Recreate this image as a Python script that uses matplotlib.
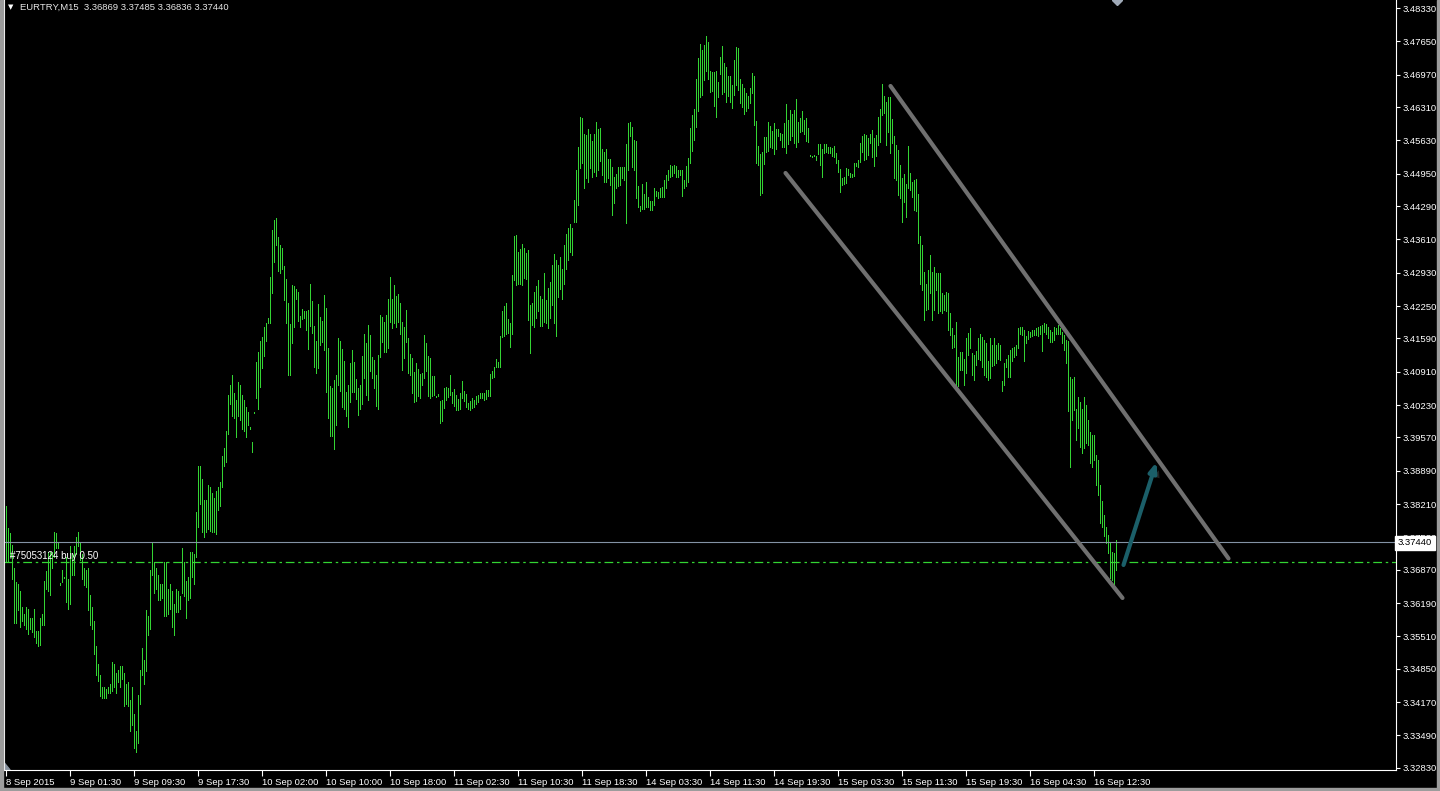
import numpy as np
import matplotlib
matplotlib.use("Agg")
import matplotlib.pyplot as plt
import matplotlib.patheffects as pe
from matplotlib.patches import Rectangle, Polygon
from matplotlib.transforms import blended_transform_factory

# EURTRY M15 bars, high / low (bar 0 = 8 Sep 17:30)
high_a = [3.3818, 3.3773, 3.3762, 3.3738, 3.3691, 3.3662, 3.3658, 3.3644, 3.3611, 3.3596,
          3.3611, 3.3607, 3.3589, 3.3589, 3.3607, 3.3563, 3.3563, 3.3589, 3.3596, 3.3665,
          3.3684, 3.3724, 3.3724, 3.3724, 3.3764, 3.3762, 3.3742, 3.3660, 3.3687, 3.3673,
          3.3713, 3.3669, 3.3735, 3.3720, 3.3735, 3.3753, 3.3765, 3.3742, 3.3720, 3.3691,
          3.3687, 3.3691, 3.3636, 3.3611, 3.3582, 3.3531, 3.3494, 3.3472, 3.3447, 3.3447,
          3.3443, 3.3447, 3.3454, 3.3498, 3.3494, 3.3476, 3.3483, 3.3491, 3.3491, 3.3476,
          3.3454, 3.3458, 3.3421, 3.3447, 3.3392, 3.3359, 3.3432, 3.3483, 3.3527, 3.3502,
          3.3604, 3.3593, 3.3687, 3.3742, 3.3702, 3.3691, 3.3676, 3.3658, 3.3658, 3.3702,
          3.3702, 3.3647, 3.3658, 3.3644, 3.3618, 3.3647, 3.3644, 3.3633, 3.3731, 3.3702,
          3.3665, 3.3673, 3.3724, 3.3724, 3.3720, 3.3804, 3.3899, 3.3899, 3.3873, 3.3829,
          3.3829, 3.3859, 3.3855, 3.3844, 3.3833, 3.3848, 3.3855, 3.3866, 3.3920, 3.3935,
          3.3971, 3.4044, 3.4063, 3.4084, 3.4048, 3.4033, 3.4070, 3.4063, 3.4044, 3.4033,
          3.4019, 3.4008, 3.3979, 3.3947, 3.4009, 3.4110, 3.4132, 3.4154, 3.4161, 3.4183,
          3.4190, 3.4201, 3.4285, 3.4380, 3.4401, 3.4405, 3.4365, 3.4350]
low_a = [3.3702, 3.3702, 3.3713, 3.3669, 3.3578, 3.3578, 3.3604, 3.3571, 3.3582, 3.3574,
         3.3567, 3.3556, 3.3567, 3.3560, 3.3549, 3.3538, 3.3531, 3.3534, 3.3574, 3.3574,
         3.3647, 3.3644, 3.3636, 3.3691, 3.3713, 3.3731, 3.3731, 3.3656, 3.3662, 3.3671,
         3.3622, 3.3607, 3.3618, 3.3676, 3.3676, 3.3720, 3.3735, 3.3706, 3.3669, 3.3655,
         3.3651, 3.3604, 3.3574, 3.3567, 3.3516, 3.3472, 3.3461, 3.3429, 3.3425, 3.3425,
         3.3425, 3.3436, 3.3436, 3.3440, 3.3447, 3.3436, 3.3458, 3.3447, 3.3465, 3.3410,
         3.3414, 3.3410, 3.3359, 3.3370, 3.3323, 3.3316, 3.3334, 3.3414, 3.3472, 3.3454,
         3.3480, 3.3553, 3.3567, 3.3676, 3.3640, 3.3647, 3.3625, 3.3625, 3.3629, 3.3593,
         3.3593, 3.3596, 3.3607, 3.3571, 3.3553, 3.3600, 3.3600, 3.3607, 3.3640, 3.3633,
         3.3589, 3.3625, 3.3629, 3.3673, 3.3658, 3.3713, 3.3775, 3.3822, 3.3764, 3.3753,
         3.3764, 3.3771, 3.3767, 3.3764, 3.3764, 3.3760, 3.3808, 3.3818, 3.3855, 3.3899,
         3.3906, 3.3964, 3.4026, 3.4001, 3.3997, 3.3957, 3.4001, 3.3993, 3.3975, 3.3971,
         3.3957, 3.3982, 3.3975, 3.3928, 3.4007, 3.4037, 3.4015, 3.4059, 3.4099, 3.4124,
         3.4154, 3.4190, 3.4190, 3.4252, 3.4314, 3.4350, 3.4296, 3.4292]

high_b = [3.4344, 3.4307, 3.4280, 3.4232, 3.4188, 3.4268, 3.4266, 3.4260, 3.4253, 3.4205,
          3.4220, 3.4215, 3.4215, 3.4217, 3.4270, 3.4235, 3.4184, 3.4154, 3.4229, 3.4203,
          3.4195, 3.4248, 3.4222, 3.4140, 3.4061, 3.4057, 3.4074, 3.4084, 3.4159, 3.4154,
          3.4137, 3.4113, 3.4049, 3.4064, 3.4108, 3.4135, 3.4110, 3.4076, 3.4057, 3.4064,
          3.4123, 3.4168, 3.4150, 3.4186, 3.4166, 3.4122, 3.4115, 3.4084, 3.4125, 3.4207,
          3.4202, 3.4193, 3.4207, 3.4239, 3.4284, 3.4239, 3.4268, 3.4246, 3.4250, 3.4231,
          3.4193, 3.4182, 3.4218, 3.4159, 3.4127, 3.4120, 3.4091, 3.4108, 3.4096, 3.4086,
          3.4089, 3.4166, 3.4149, 3.4123, 3.4120, 3.4082, 3.4082, 3.4042, 3.4046, 3.4031,
          3.4033, 3.4057, 3.4059, 3.4057, 3.4084, 3.4049, 3.4056, 3.4044, 3.4035, 3.4047,
          3.4072, 3.4052, 3.4045, 3.4028, 3.4032, 3.4037, 3.4033, 3.4042, 3.4044, 3.4048,
          3.4047, 3.4047, 3.4054, 3.4054,
          3.4086, 3.4093, 3.4101, 3.4118, 3.4110, 3.4164, 3.4215, 3.4225, 3.4231, 3.4199,
          3.4191, 3.4288, 3.4367, 3.4370, 3.4336, 3.4341, 3.4352, 3.4343, 3.4334, 3.4339,
          3.4227, 3.4231, 3.4254, 3.4266, 3.4278, 3.4246, 3.4239, 3.4293, 3.4237, 3.4261,
          3.4275, 3.4309, 3.4331, 3.4319, 3.4309,
          3.4325, 3.4300, 3.4350, 3.4372, 3.4385]
low_b = [3.4300, 3.4237, 3.4191, 3.4084, 3.4084, 3.4150, 3.4183, 3.4239, 3.4195, 3.4183,
         3.4198, 3.4201, 3.4176, 3.4137, 3.4184, 3.4171, 3.4101, 3.4089, 3.4099, 3.4146,
         3.4152, 3.4135, 3.4050, 3.3997, 3.3959, 3.3959, 3.3934, 3.3982, 3.4064, 3.4052,
         3.4020, 3.4016, 3.4001, 3.3979, 3.4030, 3.4050, 3.4050, 3.4035, 3.4002, 3.4016,
         3.4025, 3.4079, 3.4044, 3.4034, 3.4093, 3.4078, 3.4057, 3.4022, 3.4016, 3.4122,
         3.4152, 3.4131, 3.4132, 3.4140, 3.4193, 3.4181, 3.4191, 3.4183, 3.4193, 3.4169,
         3.4095, 3.4120, 3.4151, 3.4089, 3.4084, 3.4047, 3.4030, 3.4031, 3.4042, 3.4038,
         3.4064, 3.4078, 3.4093, 3.4042, 3.4038, 3.4042, 3.4044, 3.4040, 3.4042, 3.3986,
         3.3991, 3.4018, 3.4033, 3.4040, 3.4044, 3.4028, 3.4021, 3.4013, 3.4014, 3.4016,
         3.4037, 3.4031, 3.4020, 3.4016, 3.4014, 3.4018, 3.4020, 3.4025, 3.4030, 3.4038,
         3.4038, 3.4033, 3.4035, 3.4042,
         3.4042, 3.4078, 3.4081, 3.4101, 3.4101, 3.4101, 3.4161, 3.4163, 3.4169, 3.4171,
         3.4142, 3.4169, 3.4278, 3.4268, 3.4271, 3.4271, 3.4268, 3.4282, 3.4280, 3.4197,
         3.4130, 3.4186, 3.4183, 3.4200, 3.4214, 3.4184, 3.4184, 3.4193, 3.4190, 3.4181,
         3.4201, 3.4227, 3.4191, 3.4163, 3.4244,
         3.4260, 3.4240, 3.4270, 3.4300, 3.4318]

high_c = [3.4392, 3.4384, 3.4441, 3.4503, 3.4550, 3.4610, 3.4608, 3.4576, 3.4574, 3.4586,
          3.4577, 3.4562, 3.4577, 3.4600, 3.4586, 3.4588, 3.4545, 3.4540, 3.4545, 3.4525,
          3.4525, 3.4509, 3.4489, 3.4494, 3.4509, 3.4509, 3.4509, 3.4509, 3.4555, 3.4599,
          3.4600, 3.4590, 3.4564, 3.4562, 3.4469, 3.4429, 3.4474, 3.4454, 3.4478, 3.4447,
          3.4440, 3.4439, 3.4465, 3.4460, 3.4458, 3.4465, 3.4467, 3.4482, 3.4492, 3.4503,
          3.4513, 3.4511, 3.4512, 3.4511, 3.4503, 3.4503, 3.4503, 3.4482, 3.4511, 3.4528,
          3.4589, 3.4615, 3.4628, 3.4688, 3.4732, 3.4760, 3.4747, 3.4758, 3.4776, 3.4763,
          3.4705, 3.4702, 3.4703, 3.4705, 3.4683, 3.4734, 3.4756, 3.4720, 3.4712, 3.4694,
          3.4694, 3.4675, 3.4727, 3.4754, 3.4751, 3.4688, 3.4678, 3.4669, 3.4660, 3.4654,
          3.4669, 3.4701, 3.4694, 3.4603, 3.4552, 3.4535, 3.4540, 3.4569, 3.4569, 3.4600,
          3.4592, 3.4583, 3.4599, 3.4586, 3.4586, 3.4579, 3.4577, 3.4598, 3.4637, 3.4605,
          3.4626, 3.4617, 3.4626, 3.4647, 3.4600, 3.4608, 3.4623, 3.4605, 3.4608, 3.4589,
          3.4533, 3.4532, 3.4533, 3.4531, 3.4556, 3.4556, 3.4545, 3.4556, 3.4556, 3.4550,
          3.4550, 3.4547, 3.4552, 3.4538, 3.4523, 3.4505, 3.4487, 3.4489, 3.4507, 3.4505,
          3.4497]
low_c = [3.4335, 3.4330, 3.4397, 3.4397, 3.4431, 3.4506, 3.4516, 3.4465, 3.4486, 3.4479,
         3.4506, 3.4489, 3.4499, 3.4490, 3.4503, 3.4520, 3.4492, 3.4479, 3.4479, 3.4486,
         3.4472, 3.4411, 3.4435, 3.4465, 3.4469, 3.4472, 3.4486, 3.4482, 3.4394, 3.4503,
         3.4571, 3.4509, 3.4503, 3.4445, 3.4428, 3.4418, 3.4424, 3.4424, 3.4428, 3.4428,
         3.4421, 3.4422, 3.4431, 3.4450, 3.4446, 3.4448, 3.4448, 3.4448, 3.4465, 3.4482,
         3.4489, 3.4491, 3.4496, 3.4489, 3.4489, 3.4492, 3.4450, 3.4465, 3.4469, 3.4479,
         3.4516, 3.4542, 3.4564, 3.4591, 3.4622, 3.4651, 3.4656, 3.4686, 3.4705, 3.4688,
         3.4662, 3.4664, 3.4633, 3.4610, 3.4652, 3.4698, 3.4658, 3.4662, 3.4642, 3.4654,
         3.4642, 3.4630, 3.4656, 3.4676, 3.4666, 3.4640, 3.4632, 3.4616, 3.4623, 3.4630,
         3.4639, 3.4659, 3.4594, 3.4516, 3.4513, 3.4452, 3.4455, 3.4515, 3.4540, 3.4542,
         3.4550, 3.4547, 3.4535, 3.4545, 3.4571, 3.4564, 3.4549, 3.4550, 3.4538, 3.4555,
         3.4564, 3.4571, 3.4557, 3.4550, 3.4560, 3.4581, 3.4583, 3.4577, 3.4562, 3.4560,
         3.4531, 3.4530, 3.4531, 3.4522, 3.4535, 3.4513, 3.4489, 3.4537, 3.4540, 3.4537,
         3.4538, 3.4531, 3.4530, 3.4516, 3.4499, 3.4458, 3.4472, 3.4474, 3.4477, 3.4492,
         3.4489]

high_d = [3.4494, 3.4516, 3.4516, 3.4523, 3.4557, 3.4572, 3.4577, 3.4575, 3.4567, 3.4576,
          3.4584, 3.4567, 3.4574, 3.4610, 3.4628, 3.4679, 3.4654, 3.4642, 3.4651, 3.4652,
          3.4606, 3.4572, 3.4554, 3.4543, 3.4513, 3.4486, 3.4494, 3.4475, 3.4552, 3.4497,
          3.4478, 3.4482, 3.4484, 3.4454, 3.4367, 3.4350, 3.4295, 3.4271, 3.4299, 3.4329,
          3.4295, 3.4305, 3.4292, 3.4292, 3.4292, 3.4251, 3.4248, 3.4254, 3.4251, 3.4210,
          3.4180, 3.4166, 3.4193, 3.4122, 3.4132, 3.4132, 3.4118, 3.4159, 3.4171, 3.4180,
          3.4129, 3.4125, 3.4134, 3.4159, 3.4168, 3.4161, 3.4156, 3.4149, 3.4112, 3.4159,
          3.4146, 3.4159, 3.4146, 3.4149, 3.4146, 3.4072, 3.4108, 3.4118, 3.4125, 3.4135,
          3.4139, 3.4142, 3.4146, 3.4180, 3.4182, 3.4183, 3.4176, 3.4164, 3.4175, 3.4173,
          3.4176, 3.4176, 3.4180, 3.4182, 3.4184, 3.4186, 3.4190, 3.4188, 3.4183, 3.4176,
          3.4173, 3.4183, 3.4180, 3.4186, 3.4180, 3.4173, 3.4166, 3.4156, 3.4154, 3.4081,
          3.4076, 3.4081, 3.4016, 3.4040, 3.4030, 3.4016, 3.4040, 3.4023, 3.3993, 3.3969,
          3.3962, 3.3962, 3.3921, 3.3911, 3.3860, 3.3828, 3.3799, 3.3775, 3.3758, 3.3744,
          3.3724, 3.3721, 3.3748]
low_d = [3.4488, 3.4491, 3.4511, 3.4509, 3.4518, 3.4540, 3.4523, 3.4526, 3.4533, 3.4557,
         3.4530, 3.4511, 3.4531, 3.4554, 3.4560, 3.4615, 3.4618, 3.4554, 3.4581, 3.4538,
         3.4558, 3.4486, 3.4482, 3.4452, 3.4445, 3.4397, 3.4438, 3.4406, 3.4465, 3.4462,
         3.4448, 3.4421, 3.4418, 3.4353, 3.4271, 3.4258, 3.4197, 3.4217, 3.4220, 3.4251,
         3.4197, 3.4217, 3.4258, 3.4210, 3.4214, 3.4210, 3.4217, 3.4214, 3.4176, 3.4166,
         3.4139, 3.4142, 3.4064, 3.4061, 3.4095, 3.4095, 3.4064, 3.4088, 3.4125, 3.4139,
         3.4084, 3.4074, 3.4105, 3.4118, 3.4115, 3.4101, 3.4084, 3.4081, 3.4074, 3.4078,
         3.4103, 3.4105, 3.4108, 3.4118, 3.4115, 3.4052, 3.4064, 3.4101, 3.4081, 3.4081,
         3.4112, 3.4122, 3.4125, 3.4139, 3.4169, 3.4166, 3.4112, 3.4149, 3.4157, 3.4161,
         3.4163, 3.4166, 3.4166, 3.4163, 3.4169, 3.4134, 3.4173, 3.4169, 3.4159, 3.4152,
         3.4152, 3.4156, 3.4168, 3.4169, 3.4168, 3.4149, 3.4135, 3.4108, 3.4010, 3.3897,
         3.3993, 3.4013, 3.3952, 3.3976, 3.3938, 3.3925, 3.3935, 3.3945, 3.3942, 3.3904,
         3.3897, 3.3911, 3.3860, 3.3840, 3.3782, 3.3775, 3.3755, 3.3741, 3.3721, 3.3670,
         3.3666, 3.3659, 3.3687]

high = np.array(high_a + high_b + high_c + high_d)
low = np.array(low_a + low_b + low_c + low_d)
bars = np.arange(len(high))

time_labels = ["8 Sep 2015", "9 Sep 01:30", "9 Sep 09:30", "9 Sep 17:30", "10 Sep 02:00",
               "10 Sep 10:00", "10 Sep 18:00", "11 Sep 02:30", "11 Sep 10:30", "11 Sep 18:30",
               "14 Sep 03:30", "14 Sep 11:30", "14 Sep 19:30", "15 Sep 03:30", "15 Sep 11:30",
               "15 Sep 19:30", "16 Sep 04:30", "16 Sep 12:30"]
label_every = 32

price_ticks = [3.48330, 3.47650, 3.46970, 3.46310, 3.45630, 3.44950, 3.44290, 3.43610,
               3.42930, 3.42250, 3.41590, 3.40910, 3.40230, 3.39570, 3.38890, 3.38210,
               3.37530, 3.36870, 3.36190, 3.35510, 3.34850, 3.34170, 3.33490, 3.32830]

last_price = 3.37440
order_price = 3.37030
order_text = "#75053124 buy 0.50"
header = "EURTRY,M15  3.36869 3.37485 3.36836 3.37440"

# trend channel and arrow (bar index, price)
lower_line = ([390, 558.5], [3.44965, 3.36295])
upper_line = ([442.5, 611.5], [3.46740, 3.37101])
arrow_start = (559.0, 3.36968)
arrow_end = (575.5, 3.39069)

bar_color = "#33d433"
fg = "white"
font = "Liberation Sans"
fs = 6.8

W, H = 1440, 791
fig = plt.figure(figsize=(W / 100, H / 100), dpi=100, facecolor="black")
ax = fig.add_axes([4 / W, 21 / H, 1392 / W, 770 / H], facecolor="black")

# 1-pixel bars with 1-pixel gaps, as on the terminal
ax.vlines(bars, low, high, colors=bar_color, linewidth=0.5, antialiased=False)

ax.set_xlim(-0.75, -0.75 + 1392 / 2)
ax.set_ylim(3.48494 - 0.000204 * 770, 3.48494)

# price lines
ax.axhline(last_price, color="#8392a4", linewidth=0.8)
ax.axhline(order_price, color=bar_color, linewidth=0.9, dashes=(7, 3, 2, 3))
ax.text(2.3, order_price + 0.0013, order_text, color="white", fontsize=7,
        family=font, va="center", ha="left")

# channel
for xs, ys in (lower_line, upper_line):
    ax.plot(xs, ys, color="#707070", linewidth=3.0, solid_capstyle="round")

ann = ax.annotate("", xy=arrow_end, xytext=arrow_start,
                  arrowprops=dict(arrowstyle="-|>,head_length=0.55,head_width=0.22",
                                  color="#1b5f69", lw=3.0, shrinkA=0, shrinkB=0))
ann.arrow_patch.set_path_effects([
    pe.withSimplePatchShadow(offset=(3, -2), shadow_rgbFace="#3a3a3a", alpha=0.6)])

# axes styling
ax.spines["top"].set_visible(False)
for side in ("left", "right", "bottom"):
    ax.spines[side].set_color(fg)
    ax.spines[side].set_linewidth(0.8)

ax.yaxis.tick_right()
ax.set_yticks(price_ticks)
ax.set_yticklabels([f"{p:.5f}" for p in price_ticks])
ax.tick_params(axis="y", colors=fg, length=3, width=0.8, pad=2, labelsize=fs)

xt = np.arange(len(time_labels)) * label_every
ax.set_xticks(xt)
ax.set_xticklabels(time_labels)
ax.tick_params(axis="x", colors=fg, length=4, width=0.8, pad=2, labelsize=fs)
for lab in ax.get_xticklabels():
    lab.set_horizontalalignment("left")
    lab.set_family(font)
for lab in ax.get_yticklabels():
    lab.set_family(font)

# last price box on the scale (covers the lower half of the 3.37530 label)
tr = blended_transform_factory(ax.transAxes, ax.transData)
ax.text(1.0012, last_price - 0.0002, f"{last_price:.5f}", transform=tr, color="black",
        fontsize=fs, family=font, va="center", ha="left", clip_on=False, zorder=5,
        bbox=dict(boxstyle="square,pad=0.3", fc="white", ec="white"))

# chart shift marker and small corner glyph
ax.plot([555.5], [3.48494], marker="D", ms=5, color="#a0aab8", clip_on=True)
ybot = 3.48494 - 0.000204 * 770
ax.add_patch(Polygon([(-0.7, ybot), (-0.7, ybot + 0.0015), (2.3, ybot)],
                     closed=True, color="#8a94a0", clip_on=False))

# header
fig.text(20 / W, 1 - 7 / H, header, color="#e6e6e6", fontsize=fs, family=font,
         va="center", ha="left")
fig.text(8 / W, 1 - 7 / H, "\u25bc", color="white", fontsize=5, va="center", ha="left")

# window frame
fig.patches.append(Rectangle((0, 0), 3 / W, 1, transform=fig.transFigure,
                             color="#9c9c9c", zorder=10))
fig.patches.append(Rectangle((1437 / W, 0), 3 / W, 1, transform=fig.transFigure,
                             color="#9c9c9c", zorder=10))
fig.patches.append(Rectangle((0, 0), 1, 3 / H, transform=fig.transFigure,
                             color="#9c9c9c", zorder=10))

fig.savefig("out.png", dpi=100, facecolor="black")
